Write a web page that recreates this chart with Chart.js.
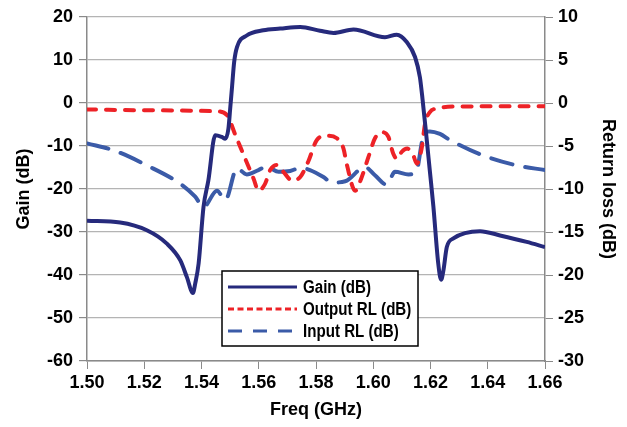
<!DOCTYPE html>
<html>
<head>
<meta charset="utf-8">
<script src="https://cdn.jsdelivr.net/npm/chart.js@4.4.0/dist/chart.umd.min.js"></script>
<style>
  html, body { margin: 0; padding: 0; background: #fff; }
  #wrap { width: 627px; height: 427px; }
</style>
</head>
<body>
<div id="wrap"><canvas id="chart" width="627" height="427"></canvas></div>
<script>
const freqTicks = [1.50, 1.52, 1.54, 1.56, 1.58, 1.60, 1.62, 1.64, 1.66];

// Gain (dB), left axis
const gainFreq = [1.5000, 1.5116, 1.5209, 1.5279, 1.5326, 1.5349, 1.5370, 1.5378, 1.5390, 1.5407, 1.5424,
  1.5448, 1.5471, 1.5483, 1.5494, 1.5500, 1.5507, 1.5514, 1.5524, 1.5558, 1.5616, 1.5675, 1.5745,
  1.5814, 1.5861, 1.5931, 1.6041, 1.6082, 1.6117, 1.6146, 1.6163, 1.6172, 1.6183, 1.6198, 1.6210,
  1.6227, 1.6237, 1.6245, 1.6257, 1.6280, 1.6373, 1.6443, 1.6536, 1.6600];
const gainDb = [-27.4, -27.8, -29.6, -32.7, -36.6, -40.5, -44.2, -42.0, -37.3, -24.2, -18.0,
  -7.5, -7.9, -8.3, -6.0, -1.5, 4.0, 9.5, 13.0, 15.7, 16.9, 17.3, 17.7,
  16.8, 16.3, 17.1, 15.3, 15.9, 14.2, 10.7, 6.0, 1.0, -6.0, -16.0, -24.0,
  -37.3, -41.1, -39.0, -33.5, -31.5, -29.8, -30.8, -32.3, -33.5];

// Output return loss (dB), right axis
const outFreq = [1.5000, 1.5221, 1.5454, 1.5489, 1.5518, 1.5553, 1.5582, 1.5599, 1.5622, 1.5640,
  1.5663, 1.5686, 1.5716, 1.5745, 1.5773, 1.5803, 1.5838, 1.5873, 1.5896, 1.5908, 1.5937,
  1.5960, 1.5983, 1.6006, 1.6030, 1.6053, 1.6070, 1.6084, 1.6099, 1.6119, 1.6140, 1.6152,
  1.6169, 1.6181, 1.6198, 1.6222, 1.6303, 1.6600];
const outRl = [-0.75, -0.85, -0.97, -1.4, -3.7, -6.5, -8.8, -10.2, -9.4, -7.8,
  -7.2, -8.0, -9.0, -8.6, -6.8, -4.3, -3.8, -4.1, -5.3, -7.2, -10.2,
  -8.6, -6.3, -4.1, -3.4, -3.95, -5.9, -6.5, -5.7, -5.3, -6.1, -7.05,
  -5.3, -2.4, -1.05, -0.65, -0.4, -0.38];

// Input return loss (dB), right axis
const inFreq = [1.5000, 1.5093, 1.5209, 1.5326, 1.5378, 1.5407, 1.5454, 1.5483, 1.5524, 1.5558,
  1.5599, 1.5628, 1.5669, 1.5710, 1.5745, 1.5779, 1.5826, 1.5855, 1.5902, 1.5971, 1.6006,
  1.6047, 1.6076, 1.6123, 1.6150, 1.6174, 1.6198, 1.6233, 1.6268, 1.6384, 1.6501, 1.6600];
const inRl = [-4.7, -5.5, -7.25, -9.4, -10.9, -12.1, -10.2, -11.3, -7.6, -8.3,
  -7.8, -7.4, -8.0, -7.9, -7.55, -7.8, -8.6, -9.25, -9.1, -7.45, -8.4,
  -9.5, -8.0, -8.3, -8.0, -4.0, -3.3, -3.6, -4.3, -6.1, -7.25, -7.8];

const FONT = "'Liberation Sans', Arial, sans-serif";
const boldFont = { family: FONT, size: 18, weight: 'bold' };

const toPoints = (xs, ys) => xs.map((x, i) => ({ x: x, y: ys[i] }));

// legend drawn inside the plot, lower middle
const legendBox = {
  id: 'legendBox',
  afterDraw(chart) {
    const ctx = chart.ctx;
    const x0 = 222, y0 = 271, w = 196, h = 75;
    ctx.save();
    ctx.fillStyle = '#fff';
    ctx.fillRect(x0, y0, w, h);
    ctx.strokeStyle = '#000';
    ctx.lineWidth = 1.5;
    ctx.strokeRect(x0, y0, w, h);
    const dashes = [[], [6, 3.5], [14, 11]];
    chart.data.datasets.forEach((ds, i) => {
      const y = y0 + 16 + i * 22;
      ctx.beginPath();
      ctx.setLineDash(dashes[i]);
      ctx.lineCap = 'butt';
      ctx.strokeStyle = ds.borderColor;
      ctx.lineWidth = 3;
      ctx.moveTo(x0 + 6, y);
      ctx.lineTo(x0 + 75, y);
      ctx.stroke();
      ctx.setLineDash([]);
      // narrow the bold face a little so the labels sit inside the box
      ctx.save();
      ctx.translate(x0 + 81, y);
      ctx.scale(0.84, 1);
      ctx.fillStyle = '#000';
      ctx.font = 'bold 18px ' + FONT;
      ctx.textBaseline = 'middle';
      ctx.textAlign = 'left';
      ctx.fillText(ds.label, 0, 1);
      ctx.restore();
    });
    ctx.restore();
  }
};

const axisGray = '#8a8a8a';

new Chart(document.getElementById('chart'), {
  type: 'line',
  data: {
    datasets: [
      {
        label: 'Gain (dB)',
        data: toPoints(gainFreq, gainDb),
        yAxisID: 'y',
        borderColor: '#262a7c',
        borderWidth: 4,
        pointRadius: 0,
        cubicInterpolationMode: 'monotone',
      },
      {
        label: 'Output RL (dB)',
        data: toPoints(outFreq, outRl),
        yAxisID: 'y2',
        borderColor: '#ed2227',
        borderWidth: 4,
        borderDash: [9, 10],
        borderCapStyle: 'round',
        pointRadius: 0,
        cubicInterpolationMode: 'monotone',
      },
      {
        label: 'Input RL (dB)',
        data: toPoints(inFreq, inRl),
        yAxisID: 'y2',
        borderColor: '#3b5ba8',
        borderWidth: 4,
        borderDash: [22, 13],
        borderCapStyle: 'round',
        pointRadius: 0,
        cubicInterpolationMode: 'monotone',
      },
    ],
  },
  options: {
    responsive: false,
    animation: false,
    layout: { padding: { top: 17, left: 0, right: 0, bottom: 0 } },
    plugins: {
      legend: { display: false },
      tooltip: { enabled: false },
    },
    scales: {
      x: {
        type: 'linear',
        position: 'bottom',
        min: 1.5,
        max: 1.66,
        afterBuildTicks: (s) => { s.ticks = freqTicks.map((v) => ({ value: v })); },
        afterFit: (s) => { s.height = 66; },
        ticks: {
          callback: (v) => Number(v).toFixed(2),
          font: boldFont,
          color: '#000',
          padding: 3,
          maxRotation: 0,
          autoSkip: false,
        },
        grid: { drawOnChartArea: false, tickLength: 8, color: axisGray },
        border: { color: axisGray, width: 1.5 },
        title: { display: true, text: 'Freq (GHz)', font: boldFont, color: '#000', padding: { top: 0, bottom: 6 } },
      },
      y: {
        position: 'left',
        min: -60,
        max: 20,
        afterFit: (s) => { s.width = 87; },
        ticks: { stepSize: 10, font: boldFont, color: '#000', padding: 6 },
        grid: { color: '#b4b4b4', lineWidth: 1.2, tickLength: 8, tickColor: axisGray },
        border: { color: axisGray, width: 1.5 },
        title: { display: true, text: 'Gain (dB)', font: boldFont, color: '#000', padding: { top: 13, bottom: 0 } },
      },
      y2: {
        position: 'right',
        min: -30,
        max: 10,
        afterFit: (s) => { s.width = 82; },
        ticks: { stepSize: 5, font: boldFont, color: '#000', padding: 5 },
        grid: { drawOnChartArea: false, tickLength: 8, color: axisGray },
        border: { color: axisGray, width: 1.5 },
        title: { display: true, text: 'Return loss (dB)', font: boldFont, color: '#000', padding: { top: 8, bottom: 0 } },
      },
    },
  },
  plugins: [legendBox],
});
</script>
</body>
</html>
